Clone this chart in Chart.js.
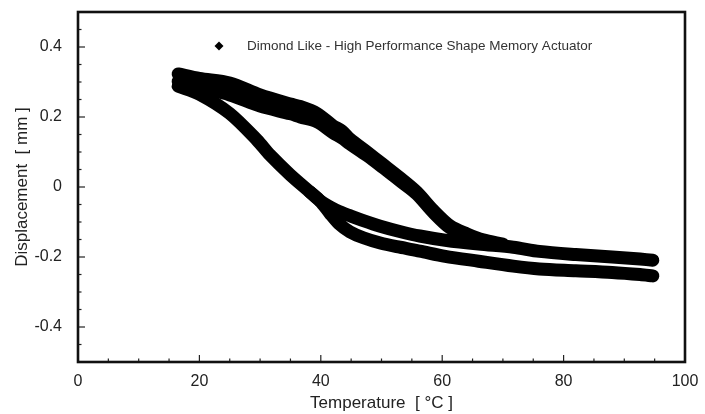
<!DOCTYPE html>
<html><head><meta charset="utf-8">
<script src="https://cdn.jsdelivr.net/npm/chart.js@4.4.0/dist/chart.umd.min.js"></script>
<style>html,body{margin:0;padding:0;background:#fff;} canvas{display:block;}</style>
</head><body>
<canvas id="c" width="705" height="414"></canvas>
<script>
// ---- data ----
const seriesLabel = 'Dimond Like - High Performance Shape Memory Actuator';
const xTitle = 'Temperature  [ \u00B0C ]';
const yTitle = 'Displacement  [ mm ]';
const xTicks = [0, 20, 40, 60, 80, 100];
const xTickLabels = ['0', '20', '40', '60', '80', '100'];
const yTicks = [-0.4, -0.2, 0, 0.2, 0.4];
const yTickLabels = ['-0.4', '-0.2', '0', '0.2', '0.4'];

// heating branch (upper edge of band)
const heatUpperT = [16.5, 20, 25, 30, 35, 36.6, 39.4, 42, 43.5, 44.8, 47.6, 50.2, 53, 55.8, 58.5, 61.3, 64.1, 66.7, 70];
const heatUpperD = [0.323, 0.31, 0.297, 0.263, 0.237, 0.23, 0.21, 0.175, 0.16, 0.137, 0.1, 0.065, 0.027, -0.014, -0.066, -0.111, -0.134, -0.151, -0.163];
// heating branch (lower edge of band)
const heatLowerT = [16.5, 20, 25, 30, 35, 36.6, 39.4, 42, 43.5, 44.8, 47.6, 50.2, 53, 55.8, 58.5, 61.3, 64.1, 66.7, 70];
const heatLowerD = [0.302, 0.285, 0.263, 0.231, 0.209, 0.2, 0.186, 0.155, 0.14, 0.123, 0.09, 0.056, 0.018, -0.02, -0.072, -0.117, -0.14, -0.157, -0.166];
// cooling return (middle band)
const coolMidT = [38.2, 39.9, 41.5, 43, 44.8, 47, 49.8, 53, 56.3, 60.5, 66, 71.7, 76, 82, 88, 92.6, 94.7];
const coolMidD = [-0.014, -0.04, -0.057, -0.07, -0.082, -0.096, -0.112, -0.127, -0.14, -0.152, -0.163, -0.172, -0.184, -0.193, -0.2, -0.206, -0.209];
// cooling branch continuing to lowest band
const coolLowT = [16.5, 20, 25, 29.5, 31.6, 34.9, 38.2, 39.9, 41.5, 43, 44.8, 47, 49.8, 53, 56.3, 60.5, 66, 71.7, 76, 82, 88, 92.6, 94.7];
const coolLowD = [0.288, 0.265, 0.21, 0.134, 0.092, 0.036, -0.014, -0.04, -0.075, -0.105, -0.128, -0.145, -0.16, -0.172, -0.183, -0.198, -0.212, -0.226, -0.234, -0.239, -0.244, -0.25, -0.254];

const toPts = (t, d) => t.map((v, i) => ({x: v, y: d[i]}));

const FONT = '"Liberation Sans", Arial, Helvetica, sans-serif';
const INK = '#111';

const lineStyle = {
  borderColor: '#000', backgroundColor: '#000', borderWidth: 13,
  pointRadius: 0, tension: 0.3, fill: false,
  borderCapStyle: 'round', borderJoinStyle: 'round'
};

const framePlugin = {
  id: 'frame',
  afterDraw(chart) {
    const {ctx, chartArea: a, scales: {x, y}} = chart;
    ctx.save();
    ctx.strokeStyle = '#222';
    ctx.lineWidth = 1.2;
    for (let v = 0; v <= 100.001; v += 5) {
      const px = x.getPixelForValue(v);
      const major = Math.abs(v % 20) < 1e-6;
      ctx.beginPath(); ctx.moveTo(px, a.bottom); ctx.lineTo(px, a.bottom - (major ? 7 : 3.5)); ctx.stroke();
    }
    for (let v = -0.5; v <= 0.5001; v += 0.05) {
      const py = y.getPixelForValue(v);
      const major = yTicks.some(t => Math.abs(t - v) < 1e-6);
      ctx.beginPath(); ctx.moveTo(a.left, py); ctx.lineTo(a.left + (major ? 7 : 3.5), py); ctx.stroke();
    }
    ctx.strokeStyle = INK;
    ctx.lineWidth = 2.6;
    ctx.strokeRect(a.left, a.top, a.right - a.left, a.bottom - a.top);
    // legend
    const lx = a.left + 141, ly = a.top + 34;
    ctx.fillStyle = '#000';
    ctx.beginPath();
    ctx.moveTo(lx, ly - 4.5); ctx.lineTo(lx + 4.5, ly); ctx.lineTo(lx, ly + 4.5); ctx.lineTo(lx - 4.5, ly);
    ctx.closePath(); ctx.fill();
    ctx.fillStyle = '#333';
    ctx.font = '13.5px ' + FONT;
    ctx.textBaseline = 'middle';
    ctx.textAlign = 'left';
    ctx.fillText(seriesLabel, a.left + 169, ly);
    ctx.restore();
  }
};

new Chart(document.getElementById('c'), {
  type: 'line',
  data: {
    datasets: [
      Object.assign({label: seriesLabel, data: toPts(coolLowT, coolLowD)}, lineStyle),
      Object.assign({label: seriesLabel, data: toPts(coolMidT, coolMidD)}, lineStyle),
      Object.assign({label: seriesLabel, data: toPts(heatLowerT, heatLowerD)}, lineStyle),
      Object.assign({label: seriesLabel, data: toPts(heatUpperT, heatUpperD)}, lineStyle)
    ]
  },
  options: {
    responsive: false, animation: false, devicePixelRatio: 1,
    layout: {padding: {top: 12, right: 20, left: 0, bottom: 0}},
    plugins: {legend: {display: false}, tooltip: {enabled: false}},
    scales: {
      x: {
        type: 'linear', min: 0, max: 100,
        afterBuildTicks: s => { s.ticks = xTicks.map(v => ({value: v})); },
        afterFit: s => { s.height = 52; s.paddingLeft = 0; s.paddingRight = 0; },
        grid: {display: false, drawTicks: false},
        border: {display: false},
        ticks: {
          callback: (v) => xTickLabels[xTicks.indexOf(v)],
          color: '#222', font: {family: FONT, size: 16}, padding: 10, maxRotation: 0
        },
        title: {display: true, text: xTitle, color: '#222', font: {family: FONT, size: 17}, padding: 0}
      },
      y: {
        type: 'linear', min: -0.5, max: 0.5,
        afterBuildTicks: s => { s.ticks = yTicks.map(v => ({value: v})); },
        afterFit: s => { s.width = 78; s.paddingTop = 0; s.paddingBottom = 0; },
        grid: {display: false, drawTicks: false},
        border: {display: false},
        ticks: {
          callback: (v) => yTickLabels[yTicks.findIndex(t => Math.abs(t - v) < 1e-9)],
          color: '#222', font: {family: FONT, size: 16}, padding: 16
        },
        title: {display: true, text: yTitle, color: '#222', font: {family: FONT, size: 17}, padding: {top: 12, bottom: 0}}
      }
    }
  },
  plugins: [framePlugin]
});
</script>
</body></html>
